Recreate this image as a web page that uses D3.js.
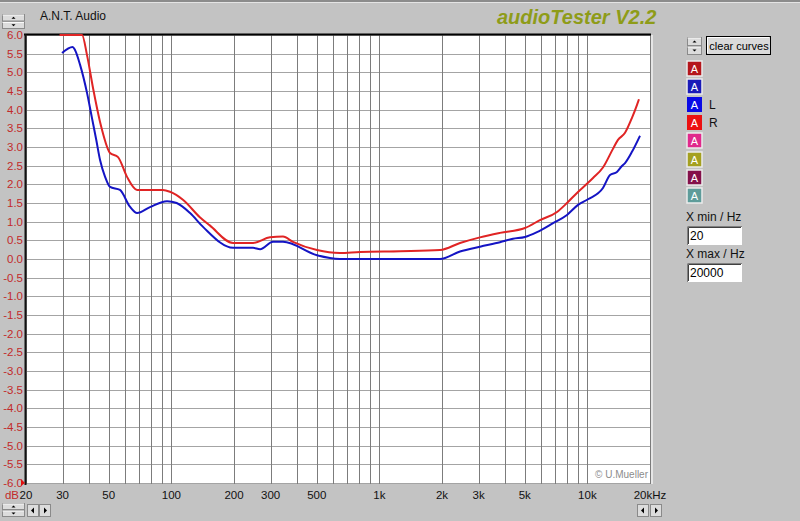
<!DOCTYPE html>
<html>
<head>
<meta charset="utf-8">
<script src="https://cdn.jsdelivr.net/npm/d3@7"></script>
<style>
  body { margin: 0; background: #c3c3c3; }
  svg { display: block; font-family: Arial, "Liberation Sans", sans-serif; }
</style>
</head>
<body>
<svg width="800" height="521"></svg>
<script>
// right channel (red), frequency in Hz / level in dB
var freqR = [29, 37.2, 39.3, 42, 45.4, 46.4, 50.7, 55.4, 61.2, 68.4, 80, 91, 98.5, 114, 137, 153,
  198, 247, 298, 344, 384, 501, 646, 807, 1257, 1957, 2441, 3046, 3800, 5012, 5916, 7146,
  7980, 8912, 10070, 10640, 11880, 13270, 14030, 15170, 16380, 17320, 17700];
var dbR = [6.0, 6.0, 5.46, 4.58, 3.67, 3.46, 2.84, 2.73, 2.2, 1.85, 1.85, 1.85, 1.8, 1.58, 1.12, 0.9,
  0.43, 0.43, 0.58, 0.6, 0.46, 0.24, 0.16, 0.19, 0.21, 0.24, 0.43, 0.58, 0.7, 0.83, 1.04, 1.26,
  1.5, 1.77, 2.04, 2.17, 2.45, 2.95, 3.19, 3.38, 3.78, 4.13, 4.28];

// left channel (blue)
var freqL = [29.8, 33.5, 34.4, 36.4, 39.3, 41.5, 43.5, 45.4, 48, 50.7, 56.6, 63.2, 68.4, 78.9, 95.3,
  106, 123, 142, 198, 247, 267, 308, 344, 501, 646, 1257, 1957, 2441, 3046, 3800, 4388, 5012,
  5724, 6838, 7980, 9016, 10070, 11880, 12850, 13870, 14660, 15170, 16380, 17900];
var dbL = [5.52, 5.68, 5.6, 5.2, 4.45, 3.78, 3.2, 2.65, 2.2, 1.93, 1.85, 1.4, 1.23, 1.39, 1.55,
  1.5, 1.23, 0.86, 0.3, 0.3, 0.26, 0.46, 0.46, 0.1, 0.0, 0.0, 0.0, 0.2, 0.33, 0.45, 0.54, 0.59,
  0.72, 0.96, 1.18, 1.45, 1.6, 1.9, 2.25, 2.33, 2.49, 2.57, 2.87, 3.3];

var xTickValues = [20, 30, 50, 100, 200, 300, 500, 1000, 2000, 3000, 5000, 10000, 20000];
var xTickLabels = ["20", "30", "50", "100", "200", "300", "500", "1k", "2k", "3k", "5k", "10k", "20kHz"];
var yTickValues = [6, 5.5, 5, 4.5, 4, 3.5, 3, 2.5, 2, 1.5, 1, 0.5, 0, -0.5, -1, -1.5, -2, -2.5, -3,
  -3.5, -4, -4.5, -5, -5.5, -6];
var yTickLabels = ["6.0", "5.5", "5.0", "4.5", "4.0", "3.5", "3.0", "2.5", "2.0", "1.5", "1.0", "0.5",
  "0.0", "-0.5", "-1.0", "-1.5", "-2.0", "-2.5", "-3.0", "-3.5", "-4.0", "-4.5", "-5.0", "-5.5", "-6.0"];
var swatchColors = ["#b4161c", "#1a1ab8", "#0a0ae6", "#ec1010", "#e0288c", "#a4a020", "#84104a", "#5e9c9a"];
var swatchNames = ["", "", "L", "R", "", "", "", ""];

var svg = d3.select("svg");

var plotL = 26, plotR = 650, plotT = 35, plotB = 483;

var x = d3.scaleLog().domain([20, 20000]).range([plotL, plotR]);
var y = d3.scaleLinear().domain([-6, 6]).range([plotB, plotT]);

// window chrome
svg.append("rect").attr("x", 0).attr("y", 0).attr("width", 800).attr("height", 2).attr("fill", "#8c8c8c");
svg.append("rect").attr("x", 0).attr("y", 2).attr("width", 800).attr("height", 1).attr("fill", "#e4e4e4");

function spinner(g, x0, y0, w, h) {
  var s = g.append("g").attr("transform", `translate(${x0}, ${y0})`);
  [0, h / 2].forEach(function(dy, i) {
    s.append("rect").attr("x", 0.5).attr("y", dy + 0.5).attr("width", w - 1).attr("height", h / 2 - 1)
      .attr("fill", "#dcdcdc").attr("stroke", "#8a8a8a");
    s.append("line").attr("x1", 0.5).attr("x2", w - 1).attr("y1", dy + 1).attr("y2", dy + 1).attr("stroke", "#fafafa");
    var cx = w / 2, cy = dy + h / 4;
    s.append("path")
      .attr("d", i === 0 ? `M${cx - 2},${cy + 1}L${cx + 2},${cy + 1}L${cx},${cy - 1}Z`
                         : `M${cx - 2},${cy - 1}L${cx + 2},${cy - 1}L${cx},${cy + 1}Z`)
      .attr("fill", "#000");
  });
}

function arrowButton(g, x0, y0, dir) {
  var b = g.append("g").attr("transform", `translate(${x0}, ${y0})`);
  b.append("rect").attr("x", 0.5).attr("y", 0.5).attr("width", 11).attr("height", 12)
    .attr("fill", "#dcdcdc").attr("stroke", "#8a8a8a");
  b.append("path")
    .attr("d", dir < 0 ? "M4,6.5L7,3.5L7,9.5Z" : "M8,6.5L5,3.5L5,9.5Z")
    .attr("fill", "#000");
}

spinner(svg, 2, 14, 23, 15);
spinner(svg, 2, 503, 23, 14);
arrowButton(svg, 27, 504, -1);
arrowButton(svg, 39, 504, 1);
arrowButton(svg, 637, 504, -1);
arrowButton(svg, 650, 504, 1);

svg.append("text").attr("x", 40).attr("y", 20).attr("font-size", 12).attr("fill", "#111")
  .text("A.N.T. Audio");

svg.append("text").attr("x", 497).attr("y", 24)
  .attr("font-size", 20).attr("font-weight", "bold").attr("font-style", "italic")
  .attr("fill", "#8e9c18")
  .text("audioTester V2.2");

// plot area
svg.append("rect").attr("x", plotR).attr("y", plotT).attr("width", 3).attr("height", plotB - plotT + 1)
  .attr("fill", "#e6e6e6");
svg.append("rect").attr("x", plotL).attr("y", plotT).attr("width", plotR - plotL).attr("height", plotB - plotT)
  .attr("fill", "#fff");

var gridFreqs = [];
[10, 100, 1000, 10000].forEach(function(dec) {
  [1, 2, 3, 4, 5, 6, 7, 8, 9].forEach(function(m) {
    var f = dec * m;
    if (f >= 20 && f <= 20000) gridFreqs.push(f);
  });
});
gridFreqs.push(20000);

svg.append("g")
  .selectAll("line")
  .data(yTickValues)
  .enter().append("line")
    .attr("x1", plotL).attr("x2", plotR + 1)
    .attr("y1", d => Math.round(y(d)) + 0.5).attr("y2", d => Math.round(y(d)) + 0.5)
    .attr("stroke", "#a4a4a4");

svg.append("g")
  .selectAll("line")
  .data(gridFreqs)
  .enter().append("line")
    .attr("x1", d => Math.round(x(d)) + 0.5).attr("x2", d => Math.round(x(d)) + 0.5)
    .attr("y1", plotT).attr("y2", plotB + 1)
    .attr("stroke", "#7c7c7c");

// frame
svg.append("line").attr("x1", plotL - 2).attr("x2", plotR + 1).attr("y1", plotT - 0.5).attr("y2", plotT - 0.5)
  .attr("stroke", "#000").attr("stroke-width", 2);
svg.append("line").attr("x1", plotL - 0.5).attr("x2", plotL - 0.5).attr("y1", plotT - 1).attr("y2", plotB + 2)
  .attr("stroke", "#111").attr("stroke-width", 2);

// y labels
svg.append("g")
  .selectAll("text")
  .data(yTickValues)
  .enter().append("text")
    .attr("x", 23)
    .attr("y", d => y(d))
    .attr("dy", "0.36em")
    .attr("text-anchor", "end")
    .attr("font-size", 11.5)
    .attr("fill", "#c22a2a")
    .text((d, i) => yTickLabels[i]);

svg.append("path").attr("d", `M21,${plotB - 4}L25,${plotB}L21,${plotB + 3}Z`).attr("fill", "#e01010");

// x labels
svg.append("g")
  .selectAll("text")
  .data(xTickValues)
  .enter().append("text")
    .attr("x", d => x(d))
    .attr("y", 499)
    .attr("text-anchor", "middle")
    .attr("font-size", 11.5)
    .attr("fill", "#111")
    .text((d, i) => xTickLabels[i]);

svg.append("text").attr("x", 19).attr("y", 499).attr("text-anchor", "end")
  .attr("font-size", 11.5).attr("fill", "#c22a2a").text("dB");

svg.append("text").attr("x", 648).attr("y", 478).attr("text-anchor", "end")
  .attr("font-size", 10).attr("fill", "#8c8c8c").text("\u00A9 U.Mueller");

// curves
var line = d3.line()
  .x(d => x(d[0]))
  .y(d => y(d[1]))
  .curve(d3.curveMonotoneX);

svg.append("path")
  .datum(d3.zip(freqR, dbR))
  .attr("d", line)
  .attr("fill", "none")
  .attr("stroke", "#e02424")
  .attr("stroke-width", 2);

svg.append("path")
  .datum(d3.zip(freqL, dbL))
  .attr("d", line)
  .attr("fill", "none")
  .attr("stroke", "#1414c4")
  .attr("stroke-width", 2);

// right panel
spinner(svg, 687, 37, 15, 18);

var btn = svg.append("g").attr("transform", "translate(706, 36)");
btn.append("rect").attr("x", 0.5).attr("y", 0.5).attr("width", 64).attr("height", 18)
  .attr("fill", "#dadada").attr("stroke", "#000");
btn.append("line").attr("x1", 1.5).attr("x2", 63).attr("y1", 1.5).attr("y2", 1.5).attr("stroke", "#fff");
btn.append("line").attr("x1", 1.5).attr("x2", 1.5).attr("y1", 1.5).attr("y2", 17).attr("stroke", "#fff");
btn.append("text").attr("x", 33).attr("y", 13.5).attr("text-anchor", "middle")
  .attr("font-size", 11).attr("fill", "#000").text("clear curves");

var swY = [61, 79, 97, 115, 133, 152, 170, 188];
var sw = svg.append("g")
  .selectAll("g")
  .data(swatchColors)
  .enter().append("g")
    .attr("transform", (d, i) => `translate(687, ${swY[i]})`);

sw.append("rect")
  .attr("width", 15).attr("height", 15)
  .attr("fill", d => d)
  .attr("stroke", (d, i) => (i === 2 || i === 3) ? "none" : "#ececec")
  .attr("stroke-width", 1.5);

sw.append("text")
  .attr("x", 7.5).attr("y", 12)
  .attr("text-anchor", "middle")
  .attr("font-size", 11)
  .attr("fill", "#fff")
  .text("A");

sw.append("text")
  .attr("x", 22).attr("y", 12)
  .attr("font-size", 12)
  .attr("fill", "#111")
  .text((d, i) => swatchNames[i]);

function inputBox(label, value, y0) {
  svg.append("text").attr("x", 686).attr("y", y0 - 5).attr("font-size", 12).attr("fill", "#111").text(label);
  var b = svg.append("g").attr("transform", `translate(687, ${y0})`);
  b.append("rect").attr("width", 55).attr("height", 19).attr("fill", "#fff");
  b.append("path").attr("d", "M0.5,19L0.5,0.5L55,0.5").attr("fill", "none").attr("stroke", "#808080");
  b.append("path").attr("d", "M1.5,18L1.5,1.5L54,1.5").attr("fill", "none").attr("stroke", "#404040");
  b.append("text").attr("x", 3).attr("y", 14).attr("font-size", 12).attr("fill", "#000").text(value);
}
inputBox("X min / Hz", "20", 226);
inputBox("X max / Hz", "20000", 263);
</script>
</body>
</html>
